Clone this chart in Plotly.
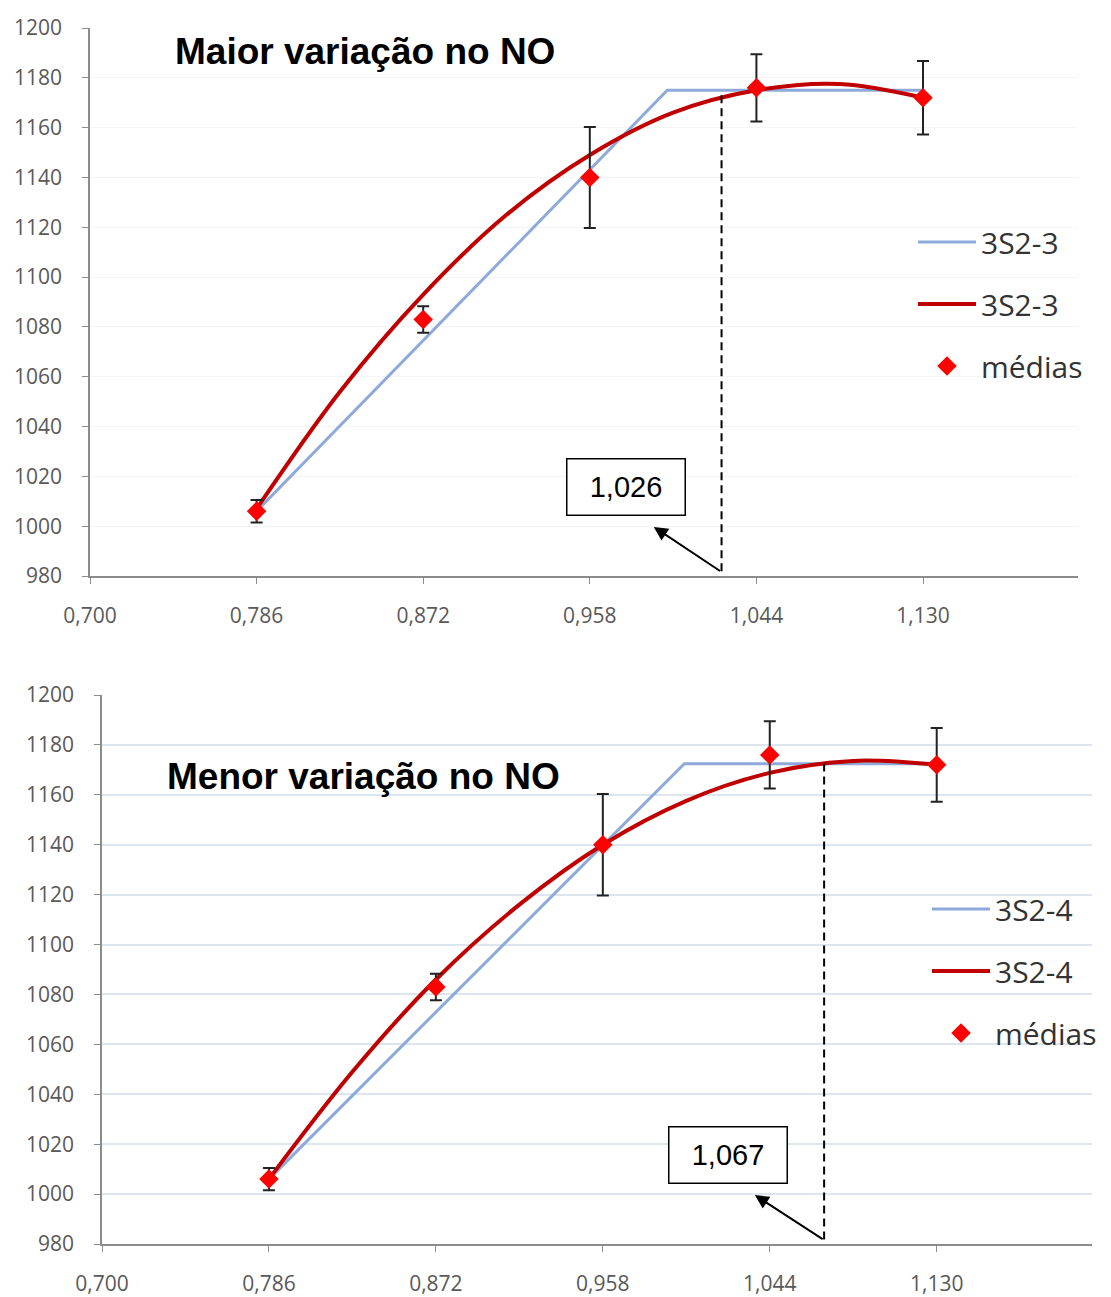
import plotly.graph_objects as go

# ---------------- data ----------------
x_means = [0.786, 0.872, 0.958, 1.044, 1.130]
y_means = [1006, 1083, 1140, 1176, 1172]
err_means = [4.5, 5.3, 20.3, 13.5, 14.8]

# smooth (trend) curves, read at regular x positions
x_fit = [0.786, 0.829, 0.872, 0.915, 0.958, 1.001, 1.044, 1.087, 1.130]
y_fit_top = [1007, 1054, 1093, 1125, 1149, 1166, 1175, 1177.5, 1172]
y_fit_bot = [1006, 1049, 1086, 1116, 1140, 1157.6, 1168.8, 1173.6, 1172]

# linear-plateau curves
x_lin_top = [0.786, 0.998, 1.130]
y_lin_top = [1006, 1175, 1175]
x_lin_bot = [0.786, 1.000, 1.130]
y_lin_bot = [1006, 1172.5, 1172.5]

# cut-off markers (dashed lines) and labels
cut_x = [1.026, 1.072]
cut_y = [1173, 1172.6]
cut_labels = ["1,026", "1,067"]

titles = ["Maior variação no NO", "Menor variação no NO"]
names_top = ["3S2-3", "3S2-3", "médias"]
names_bot = ["3S2-4", "3S2-4", "médias"]

x_range = [0.700, 1.210]
y_range = [980, 1200]

BLUE = "#8eaadb"
RED = "#c00000"
MARK = "#ff0000"
TICK_FONT = dict(family="Open Sans, Calibri, sans-serif", size=21, color="#595959")
LEG_FONT = dict(family="Open Sans, Calibri, sans-serif", size=30, color="#333333")

fig = go.Figure()

def add_panel(suffix, x_lin, y_lin, y_fit, names, legend):
    xa = "x" + suffix
    ya = "y" + suffix
    fig.add_trace(go.Scatter(x=x_lin, y=y_lin, mode="lines", name=names[0],
                             line=dict(color=BLUE, width=3), xaxis=xa, yaxis=ya,
                             legend=legend, legendgroup=legend + "a"))
    fig.add_trace(go.Scatter(x=x_fit, y=y_fit, mode="lines", name=names[1],
                             line=dict(color=RED, width=4, shape="spline"),
                             xaxis=xa, yaxis=ya, legend=legend, legendgroup=legend + "b"))
    fig.add_trace(go.Scatter(x=x_means, y=y_means, mode="markers", name=names[2],
                             marker=dict(symbol="diamond", size=15, color=MARK),
                             error_y=dict(type="data", array=err_means, visible=True,
                                          color="#222222", thickness=2, width=6),
                             xaxis=xa, yaxis=ya, legend=legend, legendgroup=legend + "c"))

add_panel("", x_lin_top, y_lin_top, y_fit_top, names_top, "legend")
add_panel("2", x_lin_bot, y_lin_bot, y_fit_bot, names_bot, "legend2")

axis_common = dict(showline=True, linecolor="#8c8c8c", linewidth=1.5,
                   ticks="outside", tickcolor="#8c8c8c", ticklen=6,
                   tickfont=TICK_FONT, zeroline=False, automargin=False)

x_common = dict(axis_common, range=x_range, tick0=0.700, dtick=0.086,
                tickformat=".3f", showgrid=False, ticklabelstandoff=14)
y_common = dict(axis_common, range=y_range, tick0=980, dtick=20,
                ticklabelstandoff=16)

fig.update_layout(
    width=1111, height=1297,
    margin=dict(l=0, r=0, t=0, b=0),
    paper_bgcolor="white", plot_bgcolor="white",
    separators=",.",
    showlegend=True,
    xaxis=dict(x_common, domain=[90 / 1111, 1078 / 1111], anchor="y"),
    yaxis=dict(y_common, domain=[1 - 576 / 1297, 1 - 28 / 1297], anchor="x",
               showgrid=True, gridcolor="#f4f4f4", gridwidth=1),
    xaxis2=dict(x_common, domain=[102 / 1111, 1092 / 1111], anchor="y2"),
    yaxis2=dict(y_common, domain=[1 - 1244 / 1297, 1 - 695 / 1297], anchor="x2",
                showgrid=True, gridcolor="#dde5ef", gridwidth=1.5),
    legend=dict(x=913 / 1111, y=1 - 216 / 1297, xanchor="left", yanchor="top",
                font=LEG_FONT, bgcolor="rgba(0,0,0,0)", itemwidth=58,
                tracegroupgap=20, traceorder="grouped"),
    legend2=dict(x=927 / 1111, y=1 - 883 / 1297, xanchor="left", yanchor="top",
                 font=LEG_FONT, bgcolor="rgba(0,0,0,0)", itemwidth=58,
                 tracegroupgap=20, traceorder="grouped"),
)

# titles
fig.add_annotation(text="<b>" + titles[0] + "</b>", xref="paper", yref="paper",
                   x=365 / 1111, y=1 - 52 / 1297, xanchor="center", yanchor="middle",
                   showarrow=False,
                   font=dict(family="Liberation Sans, Arial, sans-serif", size=37, color="black"))
fig.add_annotation(text="<b>" + titles[1] + "</b>", xref="paper", yref="paper",
                   x=363 / 1111, y=1 - 776 / 1297, xanchor="center", yanchor="middle",
                   showarrow=False,
                   font=dict(family="Liberation Sans, Arial, sans-serif", size=37, color="black"))

# dashed cut lines, labels and arrows
panels = [("x", "y"), ("x2", "y2")]
box_pos = [(0.9765, 1015.7), (1.0227, 1015.7)]
head_pos = [(0.991, 999.7), (1.0363, 999.6)]
for i, (xr, yr) in enumerate(panels):
    fig.add_shape(type="line", xref=xr, yref=yr, x0=cut_x[i], x1=cut_x[i],
                  y0=cut_y[i], y1=y_range[0],
                  line=dict(color="black", width=2, dash="8px,5px"))
    fig.add_annotation(text=cut_labels[i], xref=xr, yref=yr,
                       x=box_pos[i][0], y=box_pos[i][1], showarrow=False,
                       font=dict(family="Liberation Sans, Arial, sans-serif", size=29, color="black"),
                       bgcolor="white", bordercolor="black", borderwidth=1.5, borderpad=0,
                       width=117, height=55)
    fig.add_annotation(x=head_pos[i][0], y=head_pos[i][1], xref=xr, yref=yr,
                       ax=cut_x[i], ay=y_range[0] + 1.6, axref=xr, ayref=yr,
                       text="", showarrow=True, arrowhead=2, arrowsize=1.4,
                       arrowwidth=2, arrowcolor="black")

fig.write_html("out.html")
